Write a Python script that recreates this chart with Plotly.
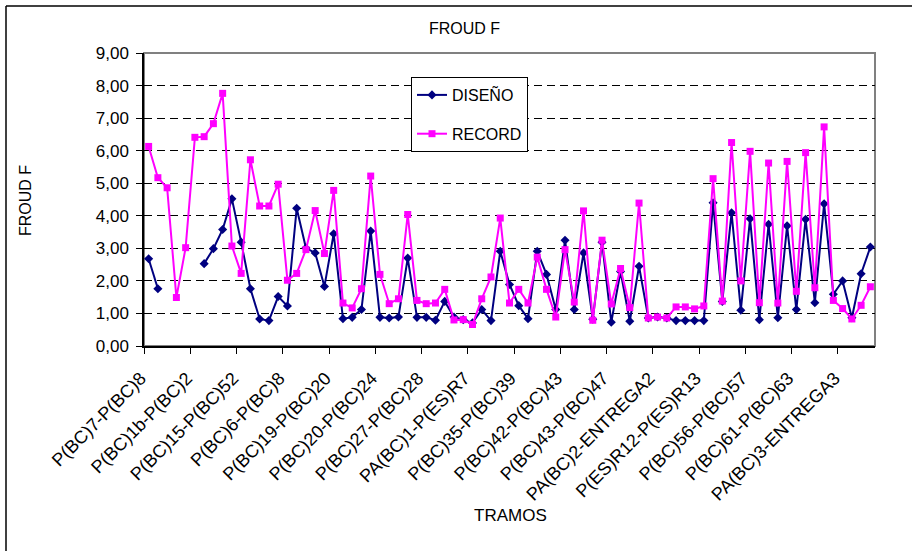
import plotly.graph_objects as go

# ---- data ----
tick_labels = [
    "P(BC)7-P(BC)8", "P(BC)1b-P(BC)2", "P(BC)15-P(BC)52", "P(BC)6-P(BC)8",
    "P(BC)19-P(BC)20", "P(BC)20-P(BC)24", "P(BC)27-P(BC)28", "PA(BC)1-P(ES)R7",
    "P(BC)35-P(BC)39", "P(BC)42-P(BC)43", "P(BC)43-P(BC)47", "PA(BC)2-ENTREGA2",
    "P(ES)R12-P(ES)R13", "P(BC)56-P(BC)57", "P(BC)61-P(BC)63", "PA(BC)3-ENTREGA3",
]
label_step = 5

diseno = [2.68, 1.76, None, None, None, None, 2.53, 2.99, 3.58, 4.52,
          3.19, 1.76, 0.83, 0.78, 1.52, 1.23, 4.23, 3.01, 2.86, 1.83,
          3.45, 0.84, 0.88, 1.12, 3.53, 0.88, 0.86, 0.89, 2.70, 0.88,
          0.88, 0.79, 1.37, 0.89, 0.81, 0.71, 1.12, 0.78, 2.91, 1.89,
          1.24, 0.84, 2.91, 2.20, 1.12, 3.25, 1.12, 2.86, 0.82, 3.19,
          0.73, 2.29, 0.76, 2.45, 0.86, 0.89, 0.86, 0.78, 0.78, 0.78,
          0.78, 4.40, 1.37, 4.09, 1.10, 3.91, 0.81, 3.74, 0.87, 3.69,
          1.12, 3.89, 1.33, 4.37, 1.59, 2.00, 0.87, 2.22, 3.04]

record = [6.13, 5.17, 4.86, 1.49, 3.02, 6.41, 6.43, 6.83, 7.76, 3.07,
          2.23, 5.72, 4.30, 4.30, 4.97, 2.02, 2.23, 2.96, 4.16, 2.84,
          4.78, 1.32, 1.17, 1.76, 5.22, 2.20, 1.30, 1.45, 4.04, 1.40,
          1.30, 1.32, 1.74, 0.80, 0.81, 0.66, 1.45, 2.12, 3.93, 1.32,
          1.74, 1.32, 2.73, 1.74, 0.89, 2.96, 1.35, 4.15, 0.79, 3.25,
          1.29, 2.38, 1.18, 4.39, 0.86, 0.89, 0.86, 1.20, 1.20, 1.14,
          1.23, 5.14, 1.38, 6.25, 2.00, 5.98, 1.33, 5.62, 1.32, 5.67,
          1.68, 5.94, 1.79, 6.73, 1.40, 1.15, 0.83, 1.25, 1.82]

x = list(range(len(record)))
tick_pos = [i * label_step for i in range(len(tick_labels))]
boundary_pos = [p - 0.5 for p in tick_pos]

FONT = "Liberation Sans, Arial, sans-serif"

fig = go.Figure()
fig.add_trace(go.Scatter(
    x=x, y=diseno, name="DISEÑO", mode="lines+markers",
    line=dict(color="#000080", width=2),
    marker=dict(symbol="diamond", size=7, color="#000080"),
    connectgaps=False, legendgroup="a",
))
fig.add_trace(go.Scatter(
    x=x, y=record, name="RECORD", mode="lines+markers",
    line=dict(color="#FF00FF", width=2),
    marker=dict(symbol="square", size=7, color="#FF00FF"),
    legendgroup="b",
))

W, H = 912, 551
L, R, T, B = 144, 37, 53, 205
pw, ph = W - L - R, H - T - B

def px_x(p):
    return (p - L) / pw

def px_y(p):
    return (H - B - p) / ph

fig.update_layout(
    width=W, height=H,
    margin=dict(l=L, r=R, t=T, b=B, autoexpand=False),
    paper_bgcolor="white", plot_bgcolor="white",
    font=dict(family=FONT, size=17, color="black"),
    separators=",.",
    showlegend=True,
    legend=dict(
        x=px_x(411), y=px_y(77), xanchor="left", yanchor="top",
        bgcolor="white", bordercolor="black", borderwidth=1,
        font=dict(size=16), tracegroupgap=15, traceorder="grouped",
    ),
    xaxis=dict(
        range=[-0.5, len(record) - 0.5],
        tickmode="array", tickvals=tick_pos, ticktext=tick_labels,
        tickangle=-45, ticks="outside", ticklen=6,
        tickcolor="rgba(0,0,0,0)",
        ticklabelshift=-8, ticklabelstandoff=7,
        showline=True, linecolor="black", linewidth=1.5,
        showgrid=False, zeroline=False,
        minor=dict(tickmode="array", tickvals=boundary_pos, ticks="outside",
                   ticklen=6, tickcolor="black", tickwidth=1, showgrid=False),
        tickfont=dict(size=18),
        automargin=False,
    ),
    yaxis=dict(
        range=[0, 9], tickmode="linear", tick0=0, dtick=1,
        tickformat=".2f", ticks="outside", ticklen=6, tickcolor="black",
        ticklabelstandoff=4,
        showline=True, linecolor="black", linewidth=1.5,
        showgrid=True, gridcolor="black", gridwidth=1, griddash="8px,5px",
        zeroline=False, tickfont=dict(size=17), automargin=False,
    ),
    shapes=[
        dict(type="rect", xref="paper", yref="paper", x0=0, x1=1, y0=0, y1=1,
             line=dict(color="#808080", width=2), layer="below"),
        dict(type="line", xref="paper", yref="paper",
             x0=px_x(6), x1=px_x(6), y0=px_y(6), y1=px_y(560),
             line=dict(color="black", width=1.5)),
        dict(type="line", xref="paper", yref="paper",
             x0=px_x(6), x1=px_x(930), y0=px_y(6), y1=px_y(6),
             line=dict(color="black", width=1.5)),
    ],
    annotations=[
        dict(text="FROUD F", xref="paper", yref="paper",
             x=px_x(464), y=px_y(29), showarrow=False,
             xanchor="center", yanchor="middle", font=dict(size=16)),
        dict(text="FROUD F", xref="paper", yref="paper",
             x=px_x(25), y=px_y(200), showarrow=False, textangle=-90,
             xanchor="center", yanchor="middle", font=dict(size=16)),
        dict(text="TRAMOS", xref="paper", yref="paper",
             x=px_x(510), y=px_y(515), showarrow=False,
             xanchor="center", yanchor="middle", font=dict(size=17)),
    ],
)

fig.write_html("out.html")
